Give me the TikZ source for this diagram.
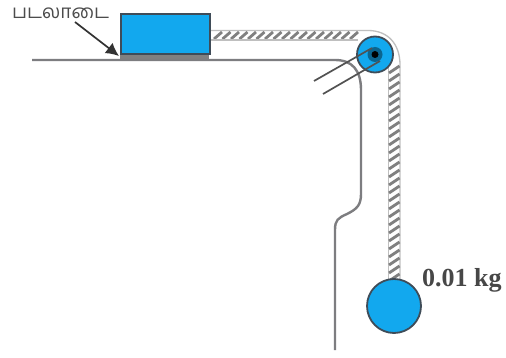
\documentclass[tikz,border=0pt]{standalone}
\usepackage{fontspec}
\setmainfont{Liberation Serif}
\newfontfamily\tamilfont[Script=Tamil]{Hind Madurai}
\usetikzlibrary{patterns,arrows.meta}
\definecolor{fillblue}{HTML}{12A8EE}
\definecolor{linegray}{HTML}{7D7D80}
\definecolor{edgegray}{HTML}{3F4C58}
\tikzset{
  px/.style={x=1pt,y=-1pt},
  bench/.style={draw=linegray,line width=2.4pt,line join=round},
  bluebody/.style={fill=fillblue,draw=edgegray,line width=1.8pt},
  hatchline/.style={draw=black!50,line width=2.8pt,line cap=butt},
  rail/.style={draw=black!25,line width=1.3pt},
  armline/.style={draw=black!68,line width=1.7pt},
}
\begin{document}
\begin{tikzpicture}[px]
\useasboundingbox (0,0) rectangle (506,358);
\fill[white] (0,0) rectangle (506,358);
% table
\fill[black!50] (120,53) rectangle (209,59.5);
\draw[bench] (32,60) -- (335,60) .. controls (352,60) and (361,70) .. (361,90) -- (361,194) .. controls (361,205) and (357,209) .. (347,214) .. controls (338,218) and (335,220) .. (335,230) -- (335,350);
% string, horizontal
\foreach \x in {214,222.5,...,354} \draw[hatchline] (\x,39) -- (\x+8,32);
\draw[rail] (209,30.5) -- (368,30.5) .. controls (388,30.5) and (400,44) .. (400,65) -- (400,280);
\draw[rail] (209,40) -- (358,40);
\draw[rail] (388.5,65) -- (388.5,280);
% string, vertical
\foreach \y in {66,74,...,274} \draw[hatchline] (389,\y+7) -- (399.5,\y);
% block
\node[bluebody,minimum width=89pt,minimum height=40pt,inner sep=0pt,anchor=north west] (block) at (120,13.5) {};
% pulley
\node[bluebody,circle,minimum size=36pt,inner sep=0pt] (pulley) at (375,54.5) {};
\node[circle,fill=fillblue!60!black,minimum size=15pt,inner sep=0pt] (hub) at (375,54.5) {};
\node[circle,fill=black,minimum size=7pt,inner sep=0pt] (axle) at (375,54.5) {};
\coordinate (armA) at (314,81);
\coordinate (armAend) at (372,48);
\coordinate (armB) at (323,94);
\coordinate (armBend) at (380,61);
\draw[armline] (armA) -- (armAend);
\draw[armline] (armB) -- (armBend);
% ball
\node[bluebody,circle,minimum size=54pt,inner sep=0pt] (ball) at (394,306) {};
\node[anchor=west,inner sep=0pt,font=\fontsize{26}{26}\selectfont\bfseries,text=black!72] (mass) at (422,280) {0.01 kg};
% label
\node[anchor=west,inner sep=0pt,font=\tamilfont\fontsize{19}{19}\selectfont,text=black!70] (lbl) at (12,13) {படலாடை};
\coordinate (lblfoot) at (75,22);
\coordinate (armtip) at (119,56);
\draw[-{Latex[length=13pt,width=13pt]},draw=black!80,fill=black,line width=1.7pt] (lblfoot) -- (armtip);
\end{tikzpicture}
\end{document}
